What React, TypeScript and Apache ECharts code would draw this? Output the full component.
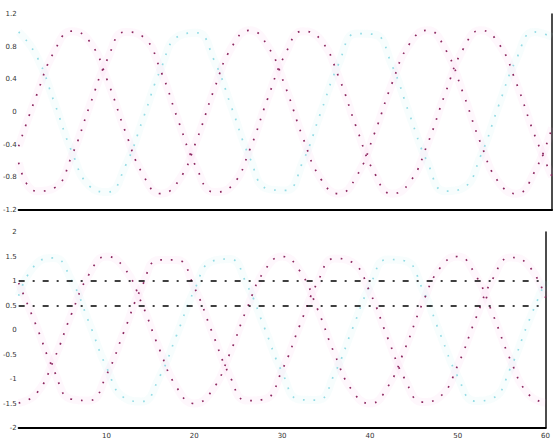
import React, { useEffect, useRef } from "react";
import * as echarts from "echarts";

// time in ms
const timeMs = [0, 2, 4, 6, 8, 10, 12, 14, 16, 18, 20, 22, 24, 26, 28, 30, 32, 34, 36, 38, 40, 42, 44, 46, 48, 50, 52, 54, 56, 58, 60];

// top panel (three phases)
const topPhaseA = [-0.42, 0.2, 0.74, 0.99, 0.86, 0.38, -0.24, -0.77, -1.0, -0.84, -0.35, 0.28, 0.8, 1.0, 0.81, 0.31, -0.32, -0.82, -1.0, -0.79, -0.27, 0.35, 0.84, 1.0, 0.77, 0.23, -0.39, -0.86, -1.0, -0.74, -0.19];
const topPhaseB = [-0.62, -0.97, -0.93, -0.53, 0.08, 0.65, 0.98, 0.92, 0.5, -0.12, -0.68, -0.98, -0.9, -0.46, 0.16, 0.71, 0.99, 0.88, 0.43, -0.19, -0.74, -1.0, -0.86, -0.39, 0.23, 0.77, 1.0, 0.84, 0.35, -0.27, -0.79];
const topPhaseC = [0.98, 0.69, 0.12, -0.49, -0.91, -0.98, -0.66, -0.08, 0.53, 0.93, 0.97, 0.63, 0.04, -0.56, -0.94, -0.96, -0.6, 0.0, 0.59, 0.96, 0.95, 0.57, -0.04, -0.62, -0.97, -0.93, -0.53, 0.08, 0.65, 0.98, 0.92];

// bottom panel (three phases)
const botPhaseA = [-1.49, -1.3, -0.61, 0.32, 1.13, 1.5, 1.27, 0.55, -0.38, -1.17, -1.5, -1.24, -0.5, 0.44, 1.21, 1.5, 1.21, 0.44, -0.5, -1.24, -1.5, -1.17, -0.38, 0.55, 1.27, 1.5, 1.13, 0.32, -0.61, -1.3, -1.49];
const botPhaseB = [0.96, 0.09, -0.82, -1.41, -1.44, -0.92, -0.03, 0.87, 1.43, 1.43, 0.87, -0.03, -0.92, -1.44, -1.41, -0.82, 0.09, 0.96, 1.46, 1.38, 0.77, -0.15, -1.01, -1.47, -1.36, -0.72, 0.21, 1.05, 1.48, 1.33, 0.66];
const botPhaseC = [0.7, 1.35, 1.47, 1.02, 0.16, -0.76, -1.38, -1.46, -0.97, -0.1, 0.81, 1.4, 1.45, 0.92, 0.04, -0.86, -1.42, -1.43, -0.88, 0.02, 0.9, 1.44, 1.41, 0.83, -0.08, -0.95, -1.45, -1.39, -0.78, 0.14, 1.0];

// reference levels (dash-dot lines, bottom panel)
const refLevels = [1, 0.5];

const MAGENTA = "#8c2860";
const MAGENTA_HALO = "rgba(240,170,220,0.09)";
const CYAN = "#93dbe4";
const CYAN_HALO = "rgba(170,230,238,0.09)";

function zip(ys: number[]) {
  return timeMs.map((t, i) => [t, ys[i]]);
}

function halo(name: string, ys: number[], color: string, axisIdx: number) {
  return {
    name: name + " halo",
    type: "line",
    xAxisIndex: axisIdx,
    yAxisIndex: axisIdx * 2,
    data: zip(ys),
    smooth: 0.5,
    showSymbol: false,
    symbol: "none",
    silent: true,
    z: 1,
    lineStyle: { color, width: 8 },
  };
}

function dotted(name: string, ys: number[], color: string, axisIdx: number, extra: any = {}) {
  return {
    name,
    type: "line",
    xAxisIndex: axisIdx,
    yAxisIndex: axisIdx * 2,
    data: zip(ys),
    smooth: 0.5,
    showSymbol: false,
    symbol: "none",
    z: 3,
    lineStyle: {
      color,
      width: 1.7,
      type: [1.7, 9],
    },
    ...extra,
  };
}

export default function App() {
  const ref = useRef<HTMLDivElement>(null);
  useEffect(() => {
    if (!ref.current) return;
    const chart = echarts.init(ref.current, undefined, { renderer: "svg" });
    const labelStyle = { fontSize: 7, color: "#333", fontFamily: "DejaVu Sans" };
    const baseX = {
      type: "value",
      min: 0,
      max: 60,
      interval: 10,
      axisLine: { show: true, onZero: false, lineStyle: { color: "#000", width: 2 } },
      axisTick: { show: false },
      splitLine: { show: false },
    };
    const leftY = (min: number, max: number, interval: number, grid: number) => ({
      type: "value",
      gridIndex: grid,
      min,
      max,
      interval,
      axisLine: { show: false },
      axisTick: { show: false },
      splitLine: { show: false },
      axisLabel: { ...labelStyle, margin: 2 },
    });
    const rightY = (min: number, max: number, grid: number) => ({
      type: "value",
      gridIndex: grid,
      position: "right",
      min,
      max,
      axisLine: { show: true, lineStyle: { color: "#111", width: 1.5 } },
      axisTick: { show: false },
      axisLabel: { show: false },
      splitLine: { show: false },
    });
    chart.setOption({
      animation: false,
      backgroundColor: "#fff",
      grid: [
        { left: 15, right: 1, top: 14, height: 196 },
        { left: 15, right: 1, top: 232, height: 196 },
      ],
      xAxis: [
        { ...baseX, gridIndex: 0, axisLabel: { show: false } },
        { ...baseX, gridIndex: 1, axisLabel: { ...labelStyle, margin: 4, showMinLabel: false } },
      ],
      yAxis: [
        leftY(-1.2, 1.2, 0.4, 0),
        rightY(-1.2, 1.2, 0),
        leftY(-2, 2, 0.5, 1),
        rightY(-2, 2, 1),
      ],
      series: [
        halo("top C", topPhaseC, CYAN_HALO, 0),
        halo("top A", topPhaseA, MAGENTA_HALO, 0),
        halo("top B", topPhaseB, MAGENTA_HALO, 0),
        halo("bottom C", botPhaseC, CYAN_HALO, 1),
        halo("bottom A", botPhaseA, MAGENTA_HALO, 1),
        halo("bottom B", botPhaseB, MAGENTA_HALO, 1),
        dotted("top C", topPhaseC, CYAN, 0),
        dotted("top A", topPhaseA, MAGENTA, 0),
        dotted("top B", topPhaseB, MAGENTA, 0),
        dotted("bottom C", botPhaseC, CYAN, 1),
        dotted("bottom A", botPhaseA, MAGENTA, 1, {
          markLine: {
            silent: true,
            symbol: ["none", "none"],
            label: { show: false },
            lineStyle: { color: "#000", width: 1.6, type: [6, 8, 2, 8] },
            data: refLevels.map((v) => ({ yAxis: v })),
          },
        }),
        dotted("bottom B", botPhaseB, MAGENTA, 1),
      ],
    });
    return () => chart.dispose();
  }, []);
  return (
    <div
      ref={ref}
      style={{ position: "fixed", left: 0, top: 0, width: 553, height: 441, background: "#fff" }}
    />
  );
}
